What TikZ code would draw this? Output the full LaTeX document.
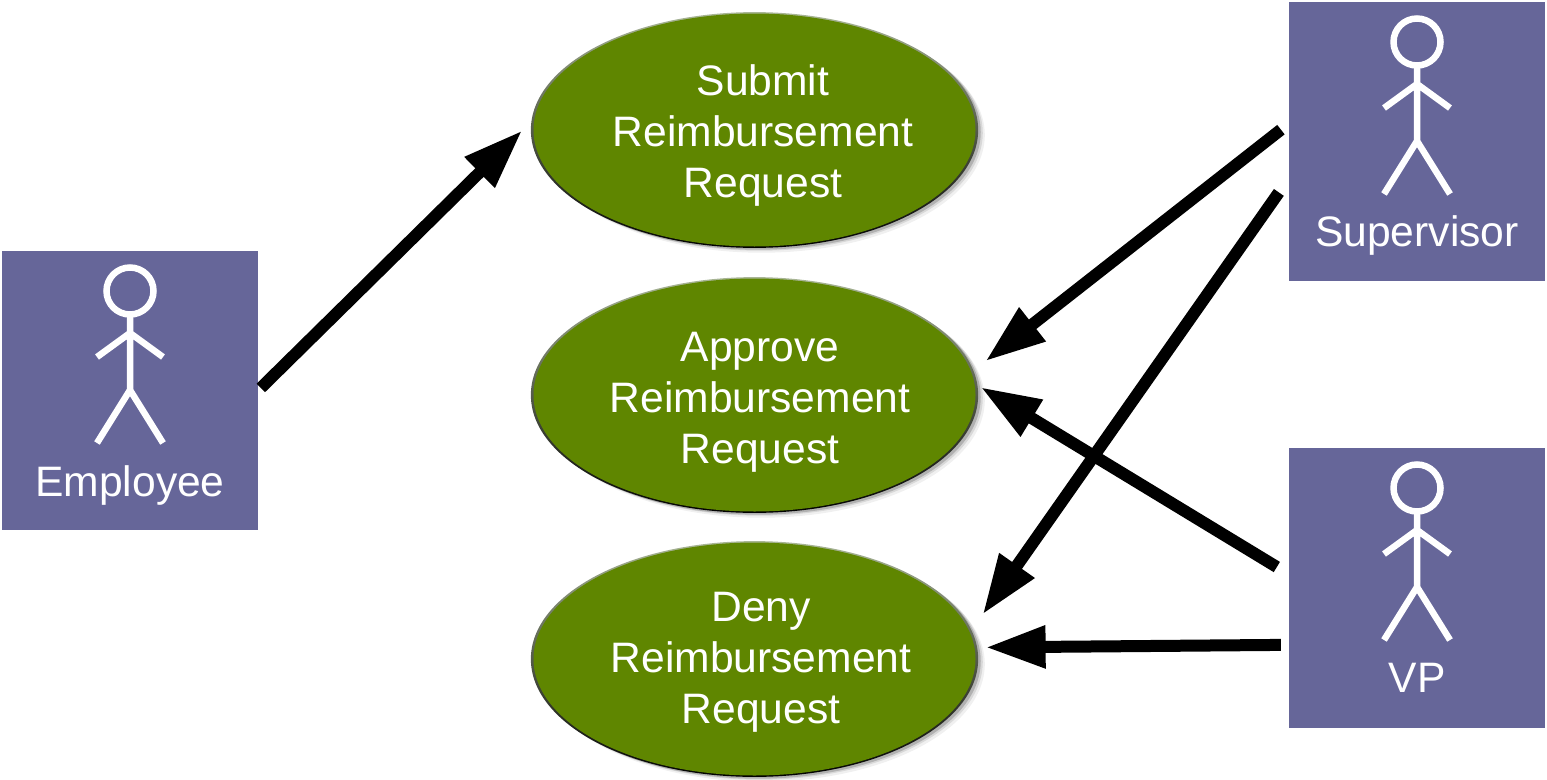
\documentclass[tikz,border=0pt]{standalone}
\usepackage{fontspec}
\setmainfont{Liberation Sans}
\usetikzlibrary{arrows.meta,shapes.geometric,shadows}

\definecolor{actorblue}{HTML}{666699}
\definecolor{casegreen}{HTML}{5F8600}
\definecolor{rimlight}{HTML}{A9B696}

\tikzset{
  actorbox/.style={rectangle, fill=actorblue, minimum width=256pt, minimum height=279.5pt, inner sep=0pt},
  actorname/.style={text=white, font=\fontsize{42.6}{51}\selectfont, inner sep=0pt},
  casename/.style={text=white, font=\fontsize{42.6}{51}\selectfont, align=center, inner sep=0pt},
  usecase/.style={ellipse, minimum width=442pt, minimum height=233pt, inner sep=0pt, fill=casegreen,
    general shadow={shadow xshift=7pt, shadow yshift=-5pt, shadow scale=1.01, fill=black, opacity=.06},
    general shadow={shadow xshift=5pt, shadow yshift=-3pt, shadow scale=1.01, fill=black, opacity=.10},
    general shadow={shadow xshift=3pt, shadow yshift=-2pt, shadow scale=1.01, fill=black, opacity=.18},
    general shadow={shadow scale=1.012, top color=rimlight, middle color=casegreen!60!black, bottom color=black}},
  flow/.style={line width=12pt, -{Triangle[length=60pt,width=40pt]}},
  stickman/.pic={
    \draw[white, line width=6.5pt] (0,-99) circle (23.5);
    \draw[white, line width=6.5pt] (0,-73) -- (0,0)
      (-33,-33) -- (0,-57) -- (33,-33)
      (-33,53) -- (0,0) -- (33,53);
  }
}

\begin{document}
\begin{tikzpicture}[x=1pt,y=-1pt]
\useasboundingbox (0,0) rectangle (1547,779);

% the three use cases
\node[usecase] (submit) at (754.5,130) {};
\node[usecase] (approve) at (754.5,395) {};
\node[usecase] (deny) at (754.5,659) {};
\node[casename] (submitText) at (763,135.5) {Submit\\Reimbursement\\Request};
\node[casename] (approveText) at (760,402) {Approve\\Reimbursement\\Request};
\node[casename] (denyText) at (761,662.5) {Deny\\Reimbursement\\Request};

% the actors
\node[actorbox] (employee) at (130,390.5) {};
\node[actorbox] (supervisor) at (1417,141.5) {};
\node[actorbox] (vp) at (1417,587.75) {};
\pic at (130,390) {stickman};
\pic at (1417,141) {stickman};
\pic at (1417,587) {stickman};
\node[actorname] (employeeText) at (130,485.5) {Employee};
\node[actorname] (supervisorText) at (1417,235.5) {Supervisor};
\node[actorname] (vpText) at (1417,678) {VP};

% who does what
\draw[flow, shorten <=3.7pt, shorten >=17pt] (employee.east) -- (submit.177.2);
\draw[flow, shorten <=10pt, shorten >=17.7pt] (supervisor.172.7) -- (approve.6.4);
\draw[flow, shorten <=17.3pt, shorten >=22pt] (supervisor.196.3) -- (deny.7.5);
\draw[flow, shorten <=14pt, shorten >=7pt] (vp.174.3) -- (approve.3.1);
\draw[flow, shorten <=8pt, shorten >=11pt] (vp.204.5) -- (deny.3.8);
\end{tikzpicture}
\end{document}
